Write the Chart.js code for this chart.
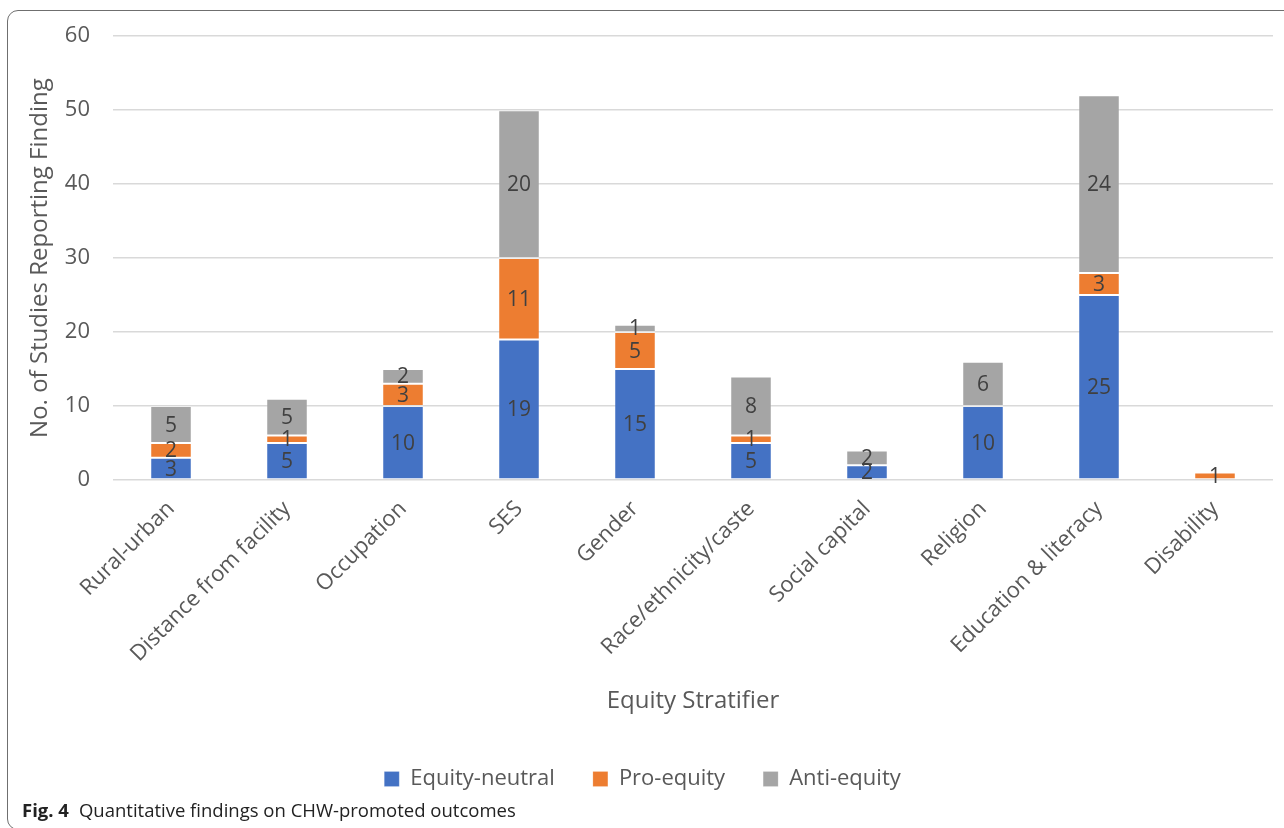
<!DOCTYPE html>
<html>
<head>
<meta charset="utf-8">
<script src="https://cdn.jsdelivr.net/npm/chart.js@4.4.1/dist/chart.umd.min.js"></script>
<style>
  html, body { margin: 0; padding: 0; background: #fff; overflow: hidden; }
  body { width: 1284px; height: 828px; position: relative; }
  #frame {
    position: absolute; left: 7px; top: 10px; width: 1300px; height: 820px;
    box-sizing: border-box; border: 1.5px solid #6f6f6f; border-radius: 11px;
  }
  #chart { position: absolute; left: 0; top: 0; }
  #caption {
    position: absolute; left: 22px; top: 797px;
    font-family: "Open Sans", sans-serif; font-size: 18.5px; color: #222;
    white-space: nowrap;
  }
  #caption b { font-weight: 700; margin-right: 10px; }
</style>
</head>
<body>
<div id="frame"></div>
<canvas id="chart" width="1284" height="800"></canvas>
<div id="caption"><b>Fig. 4</b>Quantitative findings on CHW-promoted outcomes</div>
<script>
// Equity stratifiers and number of studies per finding type
const categories = [
  "Rural-urban", "Distance from facility", "Occupation", "SES", "Gender",
  "Race/ethnicity/caste", "Social capital", "Religion", "Education & literacy", "Disability"
];
const equityNeutral = [3, 5, 10, 19, 15, 5, 2, 10, 25, 0];
const proEquity     = [2, 1, 3, 11, 5, 1, 0, 0, 3, 1];
const antiEquity    = [5, 5, 2, 20, 1, 8, 2, 6, 24, 0];
const yTicks = [0, 10, 20, 30, 40, 50, 60];

const FONT = '"Open Sans", sans-serif';
const TEXT = '#595959';

// Writes each segment's value in the middle of its bar segment
const segmentLabels = {
  id: 'segmentLabels',
  afterDatasetsDraw(chart) {
    const ctx = chart.ctx;
    ctx.save();
    ctx.font = '21px ' + FONT;
    ctx.fillStyle = '#404040';
    ctx.textAlign = 'center';
    ctx.textBaseline = 'middle';
    chart.data.datasets.forEach((ds, i) => {
      const meta = chart.getDatasetMeta(i);
      meta.data.forEach((bar, j) => {
        const v = ds.data[j];
        if (!v) return;
        ctx.fillText(String(v), bar.x, (bar.y + bar.base) / 2 + 1);
      });
    });
    ctx.restore();
  }
};

new Chart(document.getElementById('chart'), {
  type: 'bar',
  data: {
    labels: categories,
    datasets: [
      { label: 'Equity-neutral', data: equityNeutral, backgroundColor: '#4472C4' },
      { label: 'Pro-equity', data: proEquity, backgroundColor: '#ED7D31' },
      { label: 'Anti-equity', data: antiEquity, backgroundColor: '#A5A5A5' }
    ].map(d => Object.assign(d, {
      borderColor: 'rgba(255,255,255,0.18)',
      borderWidth: 1,
      borderSkipped: false,
      categoryPercentage: 1,
      barPercentage: 0.358
    }))
  },
  options: {
    responsive: false,
    devicePixelRatio: 1,
    animation: false,
    layout: { padding: { left: 12, right: 11, top: 36, bottom: 10 } },
    plugins: {
      tooltip: { enabled: false },
      legend: {
        position: 'bottom',
        maxHeight: 60,
        labels: {
          font: { family: FONT, size: 22 },
          color: TEXT,
          boxWidth: 15,
          boxHeight: 15,
          padding: 38
        }
      }
    },
    scales: {
      x: {
        stacked: true,
        grid: { display: false },
        border: { display: false },
        ticks: {
          autoSkip: false,
          maxRotation: 45,
          minRotation: 45,
          padding: 8,
          color: TEXT,
          font: { family: FONT, size: 22 }
        },
        title: {
          display: true,
          text: 'Equity Stratifier',
          color: TEXT,
          font: { family: FONT, size: 24 },
          padding: { top: 4, bottom: 14 }
        },
        afterFit(scale) { scale.height = 250; }
      },
      y: {
        stacked: true,
        min: 0,
        max: 60,
        afterBuildTicks(scale) { scale.ticks = yTicks.map(v => ({ value: v })); },
        grid: { color: '#d9d9d9', lineWidth: 1.5, drawTicks: false },
        border: { display: false },
        ticks: {
          padding: 23,
          color: TEXT,
          font: { family: FONT, size: 22 }
        },
        title: {
          display: true,
          text: 'No. of Studies Reporting Finding',
          color: TEXT,
          font: { family: FONT, size: 24 },
          padding: { top: 14, bottom: 4 }
        },
        afterFit(scale) { scale.width = 101; }
      }
    }
  },
  plugins: [segmentLabels]
});
</script>
</body>
</html>
